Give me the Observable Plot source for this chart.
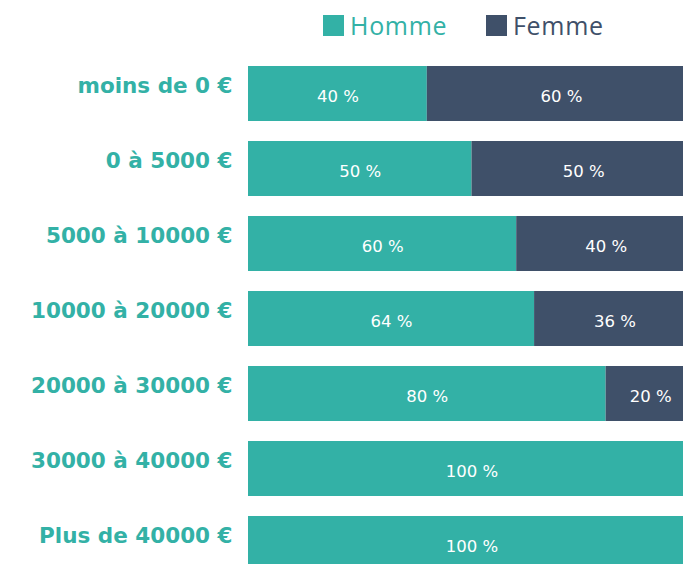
<!DOCTYPE html>
<html>
<head>
<meta charset="utf-8">
<script src="https://cdn.jsdelivr.net/npm/d3@7"></script>
<script src="https://cdn.jsdelivr.net/npm/@observablehq/plot@0.6"></script>
<style>
html, body { margin: 0; padding: 0; overflow: hidden; background: #fff; width: 683px; height: 564px; }
#legend { position: relative; height: 50px; font-family: "Open Sans", sans-serif; font-size: 25px; letter-spacing: 0.7px; }
.item { position: absolute; top: 8px; display: flex; align-items: center; }
.sw { width: 21px; height: 21px; margin-right: 6px; }
#chart svg { max-width: none !important; }
</style>
</head>
<body>
<div id="legend"></div>
<div id="chart"></div>
<script>
const categories = ["moins de 0 €", "0 à 5000 €", "5000 à 10000 €", "10000 à 20000 €", "20000 à 30000 €", "30000 à 40000 €", "Plus de 40000 €"];
const homme = [40, 50, 60, 64, 80, 100, 100];
const femme = [60, 50, 40, 36, 20, 0, 0];
const series = ["Homme", "Femme"];
const colors = ["#33b1a6", "#3f5069"];

const data = [];
categories.forEach((c, i) => data.push({cat: c, sex: "Homme", value: homme[i]}));
categories.forEach((c, i) => data.push({cat: c, sex: "Femme", value: femme[i]}));

const legend = document.getElementById("legend");
const lefts = [323, 486];
series.forEach((s, i) => {
  const it = document.createElement("div");
  it.className = "item";
  it.style.left = lefts[i] + "px";
  it.innerHTML = `<div class="sw" style="background:${colors[i]}"></div><span style="color:${colors[i]}">${s}</span>`;
  legend.appendChild(it);
});

const chart = Plot.plot({
  width: 695,
  height: 522,
  marginTop: 15,
  marginBottom: 0,
  marginLeft: 248,
  marginRight: 0,
  style: {fontFamily: "'DejaVu Sans', sans-serif", background: "transparent", maxWidth: "none"},
  x: {domain: [0, 100], axis: null},
  y: {domain: categories, paddingInner: 0.27, paddingOuter: 0, axis: null},
  color: {domain: series, range: colors},
  marks: [
    Plot.barX(data, Plot.stackX({x: "value", y: "cat", fill: "sex", order: series})),
    Plot.text(data, Plot.stackX({filter: d => d.value > 0, x: "value", y: "cat", z: "sex", order: series,
      text: d => d.value + " %", fill: "white", fontSize: 16.5, dy: 3, fontFamily: "'DejaVu Sans', sans-serif"})),
    Plot.axisY({tickSize: 0, tickPadding: 16, color: colors[0], fill: colors[0], fontSize: 21.5, fontWeight: "bold", dy: -8, label: null})
  ]
});
document.getElementById("chart").appendChild(chart);
</script>
</body>
</html>
